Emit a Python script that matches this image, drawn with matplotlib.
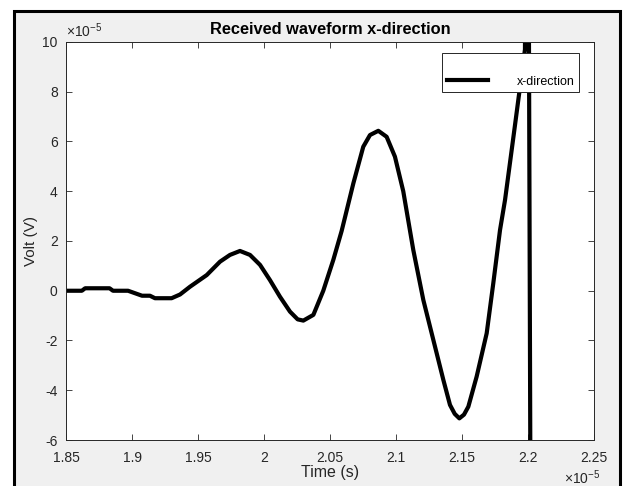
import matplotlib

matplotlib.use("Agg")
import matplotlib.pyplot as plt
from matplotlib.patches import Rectangle

plt.rcParams["font.family"] = ["Liberation Sans", "DejaVu Sans"]
plt.rcParams["mathtext.fontset"] = "custom"
plt.rcParams["mathtext.rm"] = "Liberation Sans"
plt.rcParams["axes.unicode_minus"] = False

# time in units of 1e-5 s, voltage in units of 1e-5 V
time_e5 = [1.85, 1.862, 1.8645, 1.883, 1.8856, 1.897, 1.9023, 1.9076, 1.9136, 1.9174,
           1.930, 1.9364, 1.9439, 1.9566, 1.9667, 1.9742, 1.9818, 1.9894, 1.997,
           2.0045, 2.0121, 2.0197, 2.0255, 2.0298, 2.0374, 2.0449, 2.0525, 2.0588,
           2.0677, 2.0752, 2.0803, 2.0866, 2.0929, 2.0992, 2.1055, 2.1131, 2.1207,
           2.1283, 2.1359, 2.1409, 2.1445, 2.148, 2.1515, 2.1548, 2.1611, 2.1687,
           2.1737, 2.1788, 2.1826, 2.1900, 2.1977, 2.1995, 2.2032, 2.2045]
volt_e5 = [0.0, 0.0, 0.1, 0.1, 0.0, 0.0, -0.1, -0.2, -0.2, -0.3,
           -0.3, -0.15, 0.16, 0.63, 1.17, 1.44, 1.6, 1.44, 1.04,
           0.43, -0.24, -0.84, -1.15, -1.2, -0.97, 0.0, 1.24, 2.4,
           4.32, 5.79, 6.26, 6.43, 6.19, 5.39, 4.0, 1.64, -0.37,
           -1.98, -3.59, -4.59, -4.95, -5.13, -4.98, -4.66, -3.45, -1.71,
           0.3, 2.44, 3.65, 6.6, 9.7, 30.0, -30.0, -30.0]

x_ticks = [1.85, 1.9, 1.95, 2.0, 2.05, 2.1, 2.15, 2.2, 2.25]
x_tick_labels = ["1.85", "1.9", "1.95", "2", "2.05", "2.1", "2.15", "2.2", "2.25"]
y_ticks = [-6, -4, -2, 0, 2, 4, 6, 8, 10]

W, H = 624, 486
fig = plt.figure(figsize=(W / 100, H / 100), dpi=100, facecolor="white")
# grey MATLAB-style figure panel with a black frame
fig.patches.append(Rectangle((14 / W, -0.05), (620 - 14) / W, 1.05 - 11 / H,
                             transform=fig.transFigure, facecolor="#f0f0f0",
                             edgecolor="black", linewidth=2.2, zorder=-10))

ax = fig.add_axes([66 / W, 1 - 440 / H, (594 - 66) / W, (440 - 42) / H])
ax.plot(time_e5, volt_e5, color="black", linewidth=3.0, label="x-direction",
        solid_joinstyle="round")
ax.set_xlim(1.85, 2.25)
ax.set_ylim(-6, 10)

ax.set_xticks(x_ticks)
ax.set_xticklabels(x_tick_labels)
ax.set_yticks(y_ticks)
gray = "#262626"
ax.tick_params(direction="in", length=4, width=0.6, colors=gray, labelsize=10,
               top=True, right=True, labelcolor=gray)
ax.tick_params(axis="x", pad=8)
ax.tick_params(axis="y", pad=6)
for s in ax.spines.values():
    s.set_color(gray)
    s.set_linewidth(0.7)

ax.set_title("Received waveform x-direction", fontsize=11.8, fontweight="bold", pad=6)
ax.set_xlabel("Time (s)", fontsize=11.5, color=gray, labelpad=0)
ax.set_ylabel("Volt (V)", fontsize=11, color=gray, labelpad=3)

ax.text(0.0, 1.004, r"$\times10^{-5}$", transform=ax.transAxes, fontsize=10,
        color=gray, ha="left", va="bottom")
ax.text(1.012, -0.072, r"$\times10^{-5}$", transform=ax.transAxes, fontsize=10,
        color=gray, ha="right", va="top")

leg = ax.legend(loc="upper right", bbox_to_anchor=(0.9716, 0.972), borderaxespad=0,
                title=" ", fontsize=9, fancybox=False, edgecolor=gray,
                handlelength=3.3, handletextpad=2.3, borderpad=0.35,
                framealpha=1)
leg.get_frame().set_linewidth(0.7)
leg.get_title().set_fontsize(9)

fig.savefig("out.png", dpi=100)
